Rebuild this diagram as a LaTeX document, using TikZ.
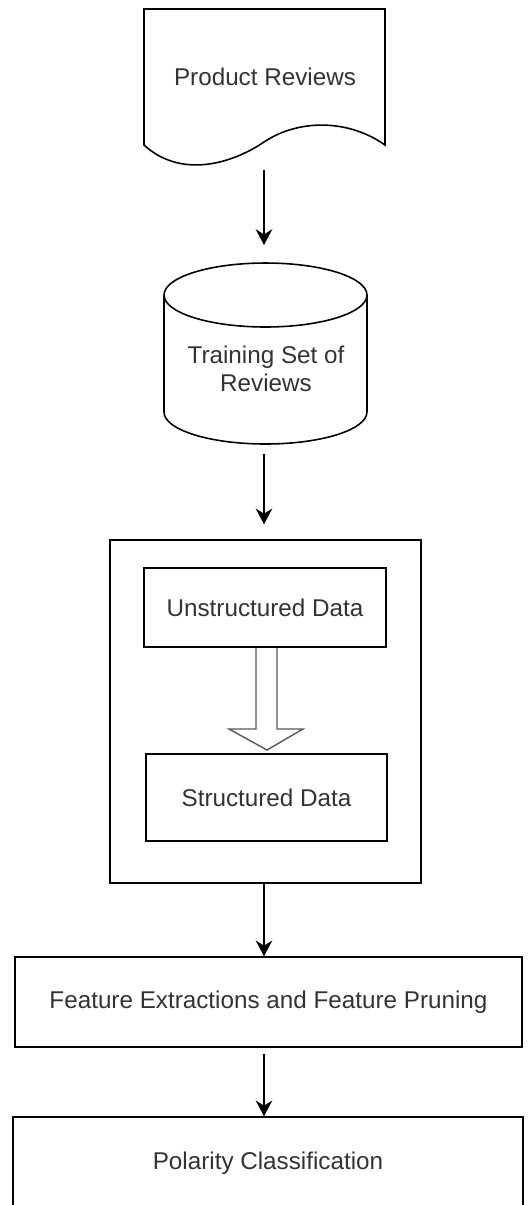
\documentclass[tikz,border=0pt]{standalone}
\usepackage{fontspec}
\setmainfont{Liberation Sans}
\usepackage{tikz}
\usetikzlibrary{positioning,arrows.meta}

\begin{document}
\begin{tikzpicture}[x=0.02cm,y=-0.02cm,line width=0.9pt,
		every node/.style={text=black!80,font=\fontsize{13.8}{15.9}\selectfont},
		box/.style={draw=black,rectangle,inner sep=0pt},
		flow/.style={-{Stealth[length=9pt,width=9.5pt,inset=3pt]}},
		hollow/.style={draw=black!65,fill=white,line width=0.8pt,line join=miter}]

		\useasboundingbox (0,0) rectangle (530,1205);

		%document
		\draw (144,145) -- (144,9) -- (385,9) -- (385,145) .. controls (350,120) and (300,118) .. (264,142) .. controls (230,165) and (180,178) .. (144,145) -- cycle;
		\node (reviews) at (265,77) {Product Reviews};

		%database
		\draw (164,295) -- (164,412) arc[start angle=180,end angle=360,x radius=2.03cm,y radius=0.64cm] -- (367,295);
		\draw (265.5,295) ellipse[x radius=2.03cm,y radius=0.64cm];
		\node[align=center] (trainset) at (266,369) {Training Set of\\Reviews};

		%block arrow
		\draw[hollow] (256,647) -- (256,729) -- (229,729) -- (267,750) -- (303,729) -- (277,729) -- (277,647);

		%boxes
		\node[box,minimum width=6.22cm,minimum height=6.86cm] (convert) at (265.5,711.5) {};
		\node[box,minimum width=4.84cm,minimum height=1.58cm] (unstructured) at (265,607.5) {Unstructured Data};
		\node[box,minimum width=4.82cm,minimum height=1.74cm] (structured) at (266.5,797.5) {Structured Data};
		\node[box,minimum width=10.14cm,minimum height=1.8cm] (feature) at (268.5,1002) {Feature Extractions and Feature Pruning};
		\node[box,minimum width=10.2cm,minimum height=1.84cm] (polarity) at (268,1163) {Polarity Classification};

		%edges
		\coordinate (reviews-out) at (264,170);
		\coordinate (trainset-in) at (264,245);
		\coordinate (trainset-out) at (264,454);
		\draw[flow] (reviews-out) -- (trainset-in);
		\draw[flow,shorten >=0.3cm] (trainset-out) -- (trainset-out |- convert.north);
		\draw[flow] (convert.south -| trainset-out) -- (feature.north -| trainset-out);
		\draw[flow,shorten <=0.12cm] (feature.south -| trainset-out) -- (polarity.north -| trainset-out);

\end{tikzpicture}
\end{document}
